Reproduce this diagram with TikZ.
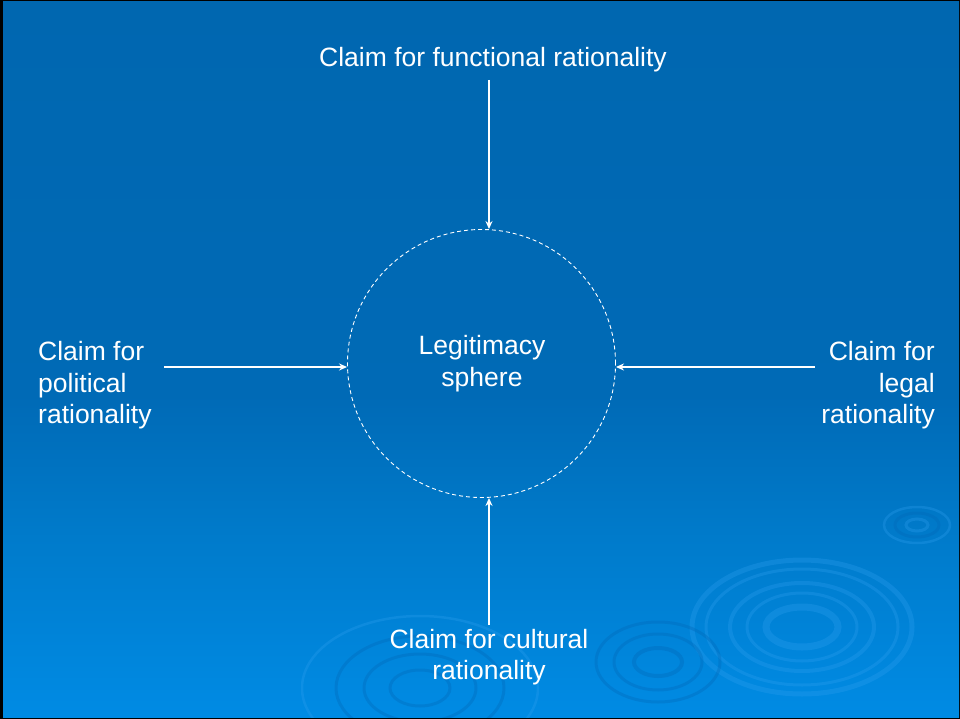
\documentclass[tikz,border=0pt]{standalone}
\usepackage{fontspec}
\setmainfont{Liberation Sans}
\usetikzlibrary{arrows.meta}
\definecolor{bgtop}{HTML}{0067B0}
\definecolor{bgmid}{HTML}{006AB6}
\definecolor{bglow}{HTML}{007BCB}
\definecolor{bgbot}{HTML}{008BE4}
\definecolor{ripL}{HTML}{2FA0F0}
\definecolor{ripD}{HTML}{0068B8}
\pgfdeclareverticalshading{bgshade}{100bp}{color(0bp)=(bgbot); color(25bp)=(bgbot); color(37.5bp)=(bglow); color(47.5bp)=(bgmid); color(75bp)=(bgtop); color(100bp)=(bgtop)}
\tikzset{
  lbl/.style={text=white, inner sep=0pt, font=\fontsize{26.5}{31.5}\selectfont},
  arr/.style={draw=white, -{Stealth[length=8pt,width=7pt]}},
  ring/.style={draw=ripL, opacity=0.3},
  ringd/.style={draw=ripD, opacity=0.35},
}
\begin{document}
\begin{tikzpicture}[x=1pt,y=-1pt]
\useasboundingbox (0,0) rectangle (960,719);
\fill[black] (0,0) rectangle (960,719);
\shade[shading=bgshade] (3,2) rectangle (959,717);
% ripples (decoration)
\begin{scope}
\clip (3,2) rectangle (959,717);
% big ripple
\draw[ring, line width=5pt] (802,627) ellipse [x radius=110, y radius=67];
\draw[ring, line width=3pt] (802,627) ellipse [x radius=96, y radius=58];
\draw[ring, line width=4pt] (802,627) ellipse [x radius=72, y radius=44];
\draw[ring, line width=3pt] (802,627) ellipse [x radius=55, y radius=34];
\draw[ring, line width=7pt] (802,627) ellipse [x radius=36, y radius=20];
% small ripple top right
\draw[ring, line width=2.5pt] (917,525) ellipse [x radius=33, y radius=18];
\draw[ringd, line width=3pt] (917,525) ellipse [x radius=22, y radius=12];
\draw[ring, line width=3pt] (917,525) ellipse [x radius=11, y radius=6];
% ripple lower middle-right
\draw[ringd, line width=3pt] (658,662) ellipse [x radius=62, y radius=40];
\draw[ringd, line width=3pt] (658,662) ellipse [x radius=44, y radius=28];
\draw[ringd, line width=4pt] (658,662) ellipse [x radius=24, y radius=14];
% ripple bottom center
\draw[ring, line width=2.5pt] (420,688) ellipse [x radius=118, y radius=72];
\draw[ringd, line width=3pt] (420,688) ellipse [x radius=84, y radius=52];
\draw[ringd, line width=3pt] (420,688) ellipse [x radius=56, y radius=34];
\draw[ringd, line width=3pt] (420,688) ellipse [x radius=30, y radius=18];
\end{scope}
% main diagram
\node[draw=white, dashed, dash pattern=on 4pt off 3pt, line width=0.9pt, circle, minimum size=268pt, inner sep=0pt] (sph) at (481.5,363.5) {};
\node[lbl, align=center] (cen) at (482,363.5) {Legitimacy\\sphere};
\node[lbl] (ftop) at (493,59.5) {Claim for functional rationality};
\node[lbl, align=left, anchor=west] (fpol) at (38,385.5) {Claim for\\political\\rationality};
\node[lbl, align=right, anchor=east] (fleg) at (935,385.5) {Claim for\\legal\\rationality};
\node[lbl, align=center] (fcul) at (489,657) {Claim for cultural\\rationality};
\coordinate (a1) at (489,80);
\coordinate (a2) at (164,367);
\coordinate (a3) at (815,367);
\coordinate (a4) at (489,625);
\draw[arr, line width=1.6pt] (a1) -- (sph.north -| a1);
\draw[arr, line width=2pt] (a2) -- (sph.west |- a2);
\draw[arr, line width=2pt] (a3) -- (sph.east |- a3);
\draw[arr, line width=2.6pt] (a4) -- (sph.south -| a4);
\end{tikzpicture}
\end{document}
